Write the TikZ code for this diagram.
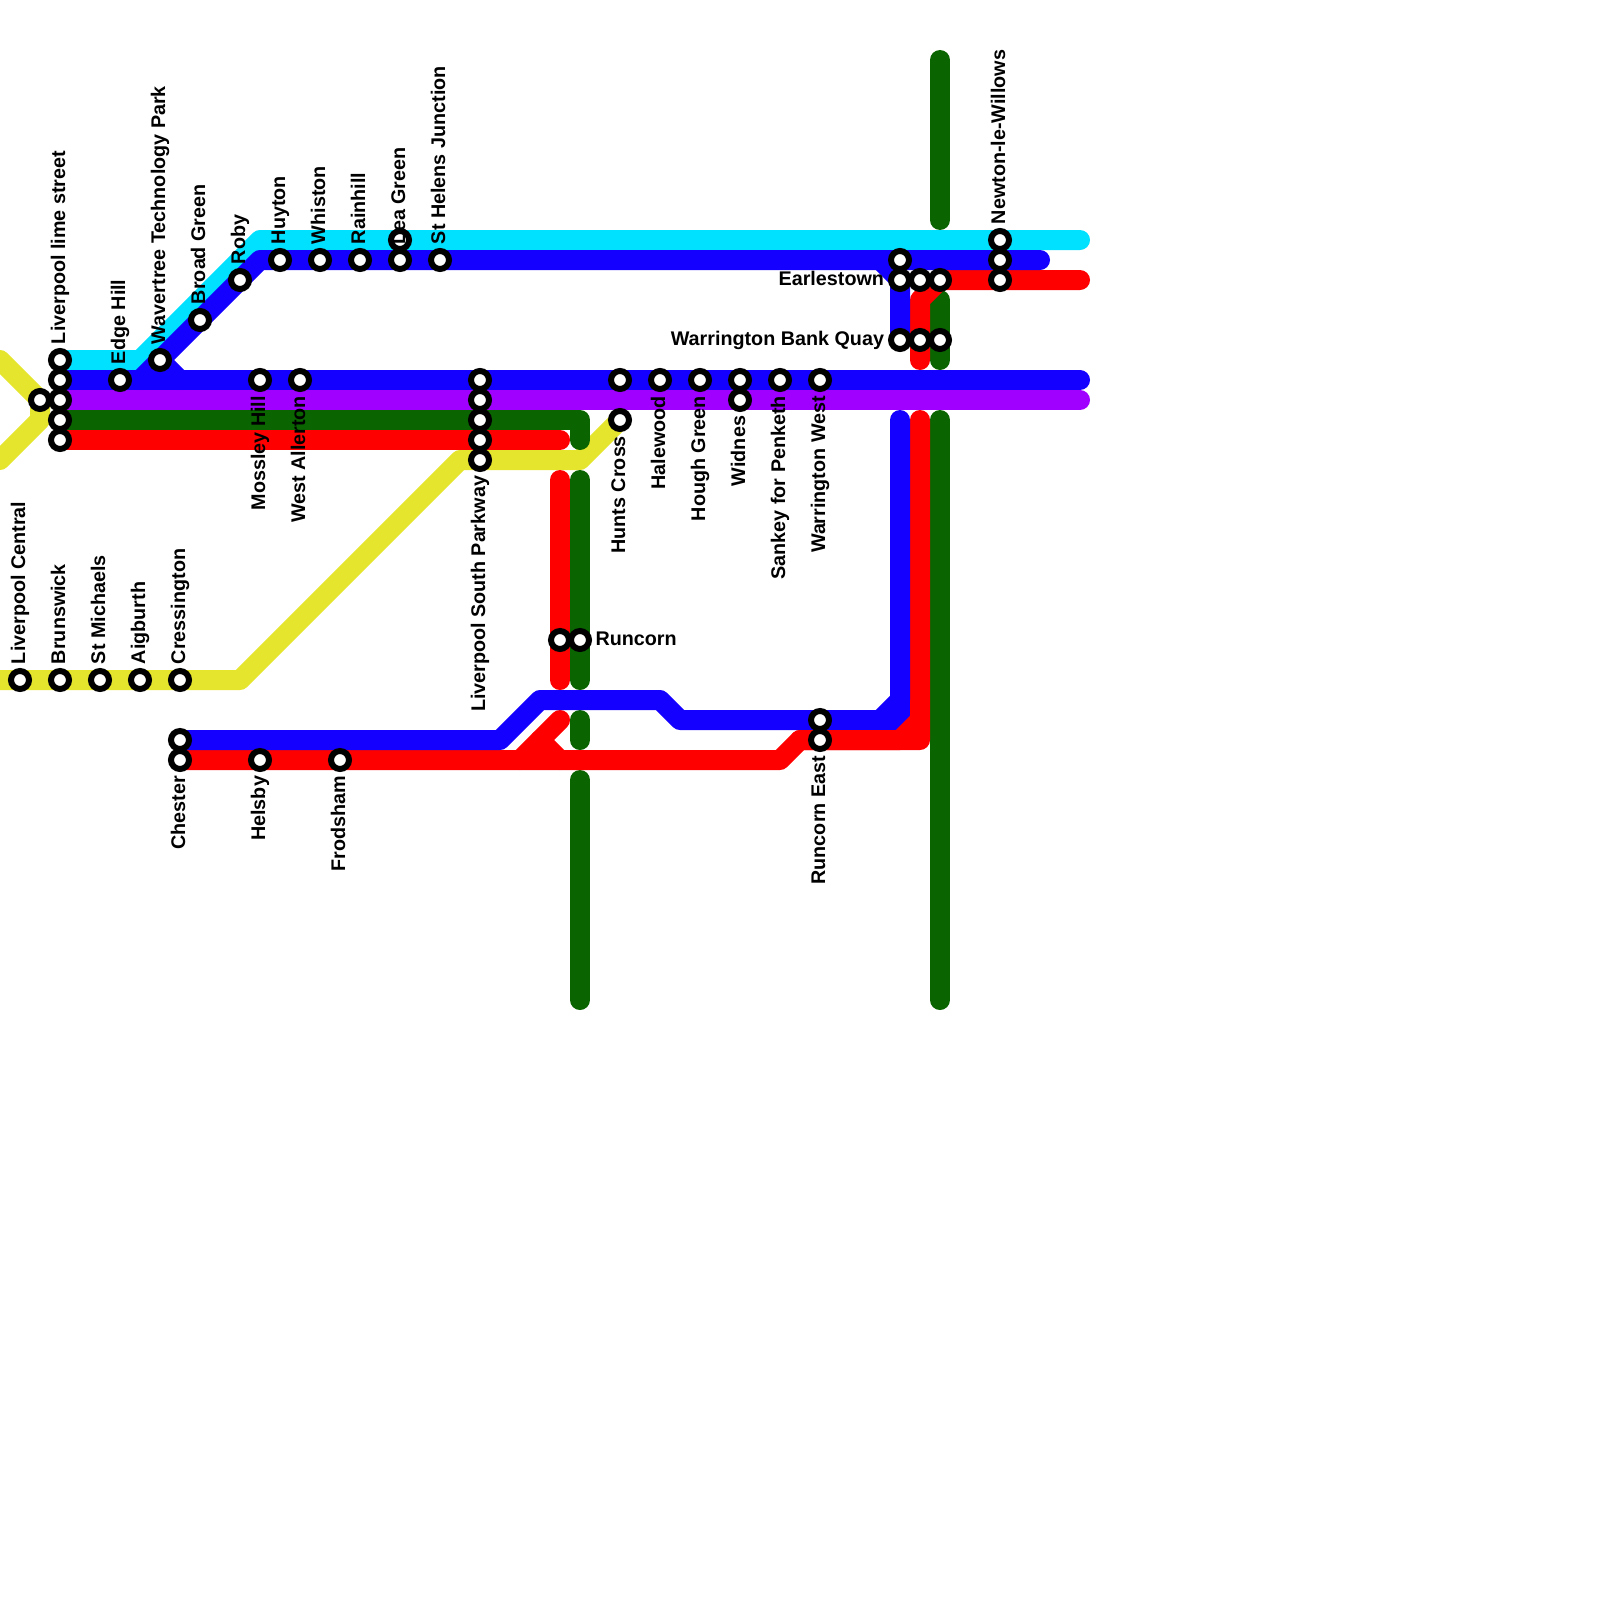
\documentclass[tikz,border=0pt]{standalone}
\usepackage{fontspec}
\setmainfont{Liberation Sans}
\pgfdeclarelayer{lines}
\pgfsetlayers{lines,main}
\definecolor{lcyan}{RGB}{0,224,255}
\definecolor{lblue}{RGB}{20,0,255}
\definecolor{lred}{RGB}{255,0,0}
\definecolor{lgreen}{RGB}{10,101,0}
\definecolor{lyellow}{RGB}{229,229,45}
\definecolor{lpurple}{RGB}{160,0,255}
\tikzset{
  route/.style={line width=20pt,line cap=round,line join=round},
  stn/.style={circle,draw=black,fill=white,line width=6pt,minimum size=18pt,inner sep=0pt,outer sep=0pt},
  lbl/.style={inner sep=0pt,outer sep=0pt,font=\bfseries\fontsize{19.75}{22}\selectfont,text=black},
  lup/.style={lbl,rotate=90,anchor=base west,xshift=16pt,yshift=-5pt},
  ldown/.style={lbl,rotate=90,anchor=base east,xshift=-16pt,yshift=-5pt},
  lright/.style={lbl,anchor=base west,xshift=15.5pt,yshift=-5pt},
  lleft/.style={lbl,anchor=base east,xshift=-16pt,yshift=-5pt},
}
\begin{document}
\begin{tikzpicture}[x=1pt,y=-1pt]
\useasboundingbox (0,0) rectangle (1600,1600);
\clip (0,0) rectangle (1600,1600);
% stations
\foreach \n/\x/\y in {
  limea/60/360,limeb/60/380,limec/60/400,limed/60/420,limee/60/440,cent/40/400,
  edge/120/380,wave/160/360,broad/200/320,roby/240/280,huyton/280/260,whiston/320/260,
  rain/360/260,leaa/400/240,leab/400/260,helens/440/260,mossley/260/380,allerton/300/380,
  lspa/480/380,lspb/480/400,lspc/480/420,lspd/480/440,lspe/480/460,
  huntsa/620/380,huntsb/620/420,hale/660/380,hough/700/380,widnesa/740/380,widnesb/740/400,
  sankey/780/380,wwest/820/380,runa/560/640,runb/580/640,
  lcentral/20/680,bruns/60/680,michael/100/680,aig/140/680,cress/180/680,
  chesta/180/740,chestb/180/760,helsby/260/760,frod/340/760,
  reasta/820/720,reastb/820/740,
  earla/900/260,earlb/900/280,earlc/920/280,earld/940/280,
  wbqa/900/340,wbqb/920/340,wbqc/940/340,
  newta/1000/240,newtb/1000/260,newtc/1000/280}
  {\node[stn] (\n) at (\x,\y) {};}
% waypoints
\foreach \n/\x/\y in {
  ye1/0/360,ye2/40/400,ye3/40/420,ye4/0/460,ye5/0/680,ye6/240/680,ye7/460/460,ye8/580/460,
  cy1/140/360,cy2/260/240,cy3/1080/240,
  bl1/140/380,bl2/260/260,bl3/1040/260,bl4/880/260,bl5/900/280,bl6/180/380,bl7/1080/380,
  bl8/900/420,bl9/900/700,bl10/880/720,bl11/680/720,bl12/660/700,bl13/540/700,bl14/500/740,bl15/900/720,
  pu1/1080/400,
  gr1/580/420,gr2/580/440,gr3/580/480,gr4/580/680,gr5/580/720,gr6/580/740,gr7/580/780,gr8/580/1000,
  gr9/940/420,gr10/940/1000,gr11/940/60,gr12/940/220,gr13/940/300,gr14/940/360,
  re1/560/440,re2/560/480,re3/560/680,re4/560/720,re5/520/760,re6/540/740,re7/560/760,
  re8/920/420,re9/920/740,re10/800/740,re11/780/760,re12/920/720,re13/900/740,
  re14/1080/280,re15/920/300,re16/920/360}
  {\coordinate (\n) at (\x,\y);}
\begin{pgfonlayer}{lines}
% yellow
\draw[route,lyellow] (ye1) -- (ye2) -- (ye3) -- (ye4);
\draw[route,lyellow] (ye5) -- (ye6) -- (ye7) -- (ye8) -- (huntsb.center);
% cyan
\draw[route,lcyan] (limea.center) -- (cy1) -- (cy2) -- (cy3);
% green
\draw[route,lgreen] (limed.center) -- (gr1) -- (gr2);
\draw[route,lgreen] (gr3) -- (gr4);
\draw[route,lgreen] (gr5) -- (gr6);
\draw[route,lgreen] (gr7) -- (gr8);
\draw[route,lgreen] (gr9) -- (gr10);
\draw[route,lgreen] (gr11) -- (gr12);
\draw[route,lgreen] (gr13) -- (gr14);
% red
\draw[route,lred] (limee.center) -- (re1);
\draw[route,lred] (re2) -- (re3);
\draw[route,lred] (re4) -- (re5);
\draw[route,lred] (re6) -- (re7);
\draw[route,lred] (re8) -- (re9) -- (re10) -- (re11) -- (chestb.center);
\draw[route,lred] (re14) -- (earld.center) -- (re15) -- (re16);
% purple
\draw[route,lpurple] (limec.center) -- (pu1);
% blue
\draw[route,lblue] (limeb.center) -- (bl7);
\draw[route,lblue] (bl1) -- (bl2) -- (bl3);
\draw[route,lblue] (wave.center) -- (bl6);
\draw[route,lblue] (bl4) -- (bl5) -- (wbqa.center);
\draw[route,lblue] (bl8) -- (bl9) -- (bl10) -- (bl11) -- (bl12) -- (bl13) -- (bl14) -- (chesta.center);
\draw[route,lblue,line cap=butt,line join=miter] (bl9) -- (bl15) -- (bl10);
% red over blue at the corner
\draw[route,lred] (re12) -- (re13) -- (re10);
\end{pgfonlayer}
% labels
\node[lup] (t1) at (limea) {Liverpool lime street};
\node[lup] (t2) at (edge) {Edge Hill};
\node[lup] (t3) at (wave) {Wavertree Technology Park};
\node[lup] (t4) at (broad) {Broad Green};
\node[lup] (t5) at (roby) {Roby};
\node[lup] (t6) at (huyton) {Huyton};
\node[lup] (t7) at (whiston) {Whiston};
\node[lup] (t8) at (rain) {Rainhill};
\node[lup] (t9) at (leab) {Lea Green};
\node[lup] (t10) at (helens) {St Helens Junction};
\node[lup] (t11) at (newta) {Newton-le-Willows};
\node[lup] (t12) at (lcentral) {Liverpool Central};
\node[lup] (t13) at (bruns) {Brunswick};
\node[lup] (t14) at (michael) {St Michaels};
\node[lup] (t15) at (aig) {Aigburth};
\node[lup] (t16) at (cress) {Cressington};
\node[ldown] (t17) at (mossley) {Mossley Hill};
\node[ldown] (t18) at (allerton) {West Allerton};
\node[ldown] (t19) at (lspe) {Liverpool South Parkway};
\node[ldown] (t20) at (huntsb) {Hunts Cross};
\node[ldown] (t21) at (hale) {Halewood};
\node[ldown] (t22) at (hough) {Hough Green};
\node[ldown] (t23) at (widnesb) {Widnes};
\node[ldown] (t24) at (sankey) {Sankey for Penketh};
\node[ldown] (t25) at (wwest) {Warrington West};
\node[ldown] (t26) at (chestb) {Chester};
\node[ldown] (t27) at (helsby) {Helsby};
\node[ldown] (t28) at (frod) {Frodsham};
\node[ldown] (t29) at (reastb) {Runcorn East};
\node[lright] (t30) at (runb) {Runcorn};
\node[lleft] (t31) at (earlb) {Earlestown};
\node[lleft] (t32) at (wbqa) {Warrington Bank Quay};
\end{tikzpicture}
\end{document}
